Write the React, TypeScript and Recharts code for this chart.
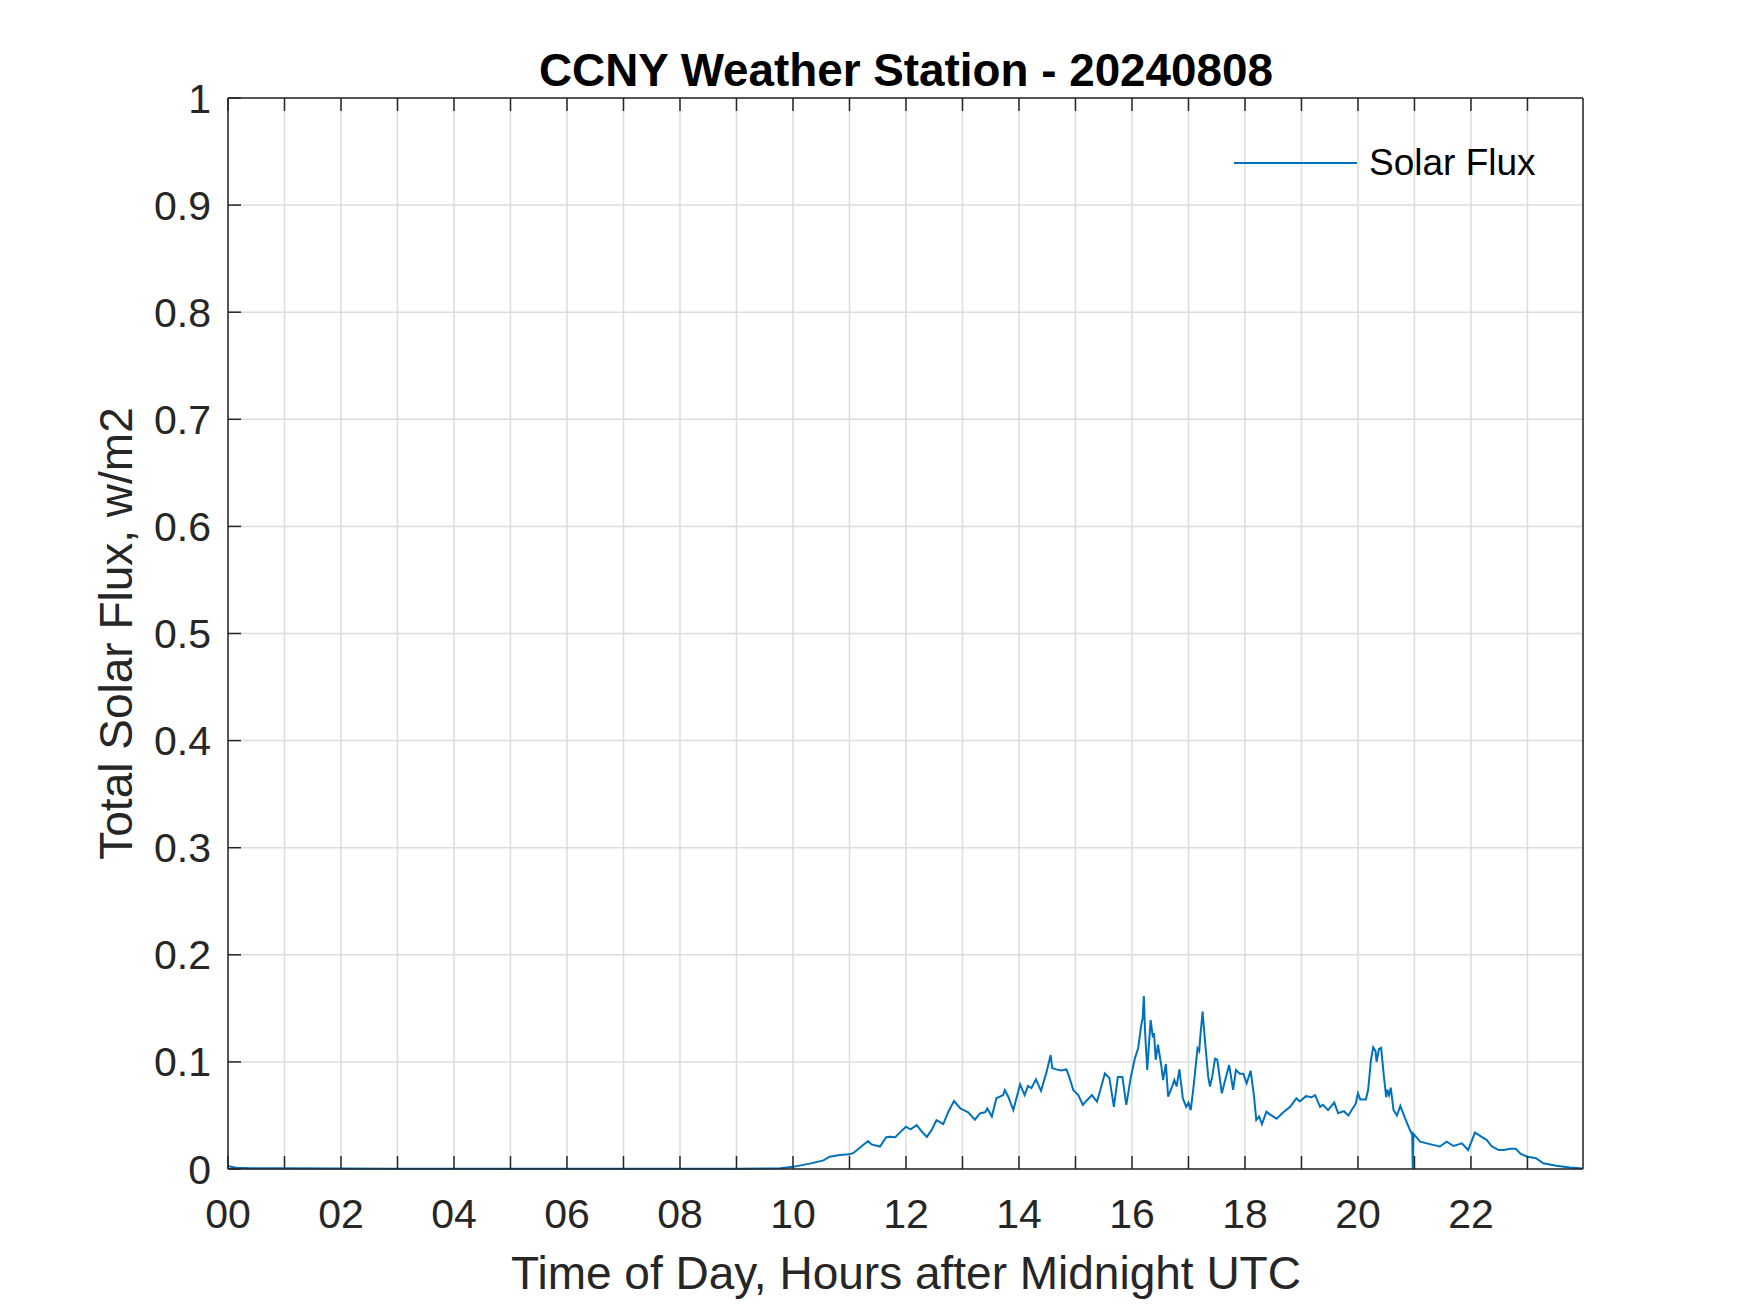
import { LineChart, Line, XAxis, YAxis, CartesianGrid, Legend } from 'recharts';

// hours after midnight UTC
const hours = [
  0, 0.05, 0.15, 0.4, 1, 2, 3, 4, 5, 6, 7, 8, 9, 9.5, 9.77,
  10, 10.3, 10.54, 10.65, 10.83, 11, 11.07, 11.22, 11.28, 11.33, 11.39, 11.54, 11.65, 11.72, 11.81, 11.89,
  12, 12.08, 12.19, 12.28, 12.37, 12.45, 12.54, 12.66, 12.75, 12.85, 12.96,
  13.1, 13.22, 13.31, 13.4, 13.44, 13.52, 13.6, 13.72, 13.75, 13.81, 13.9,
  14.02, 14.1, 14.16, 14.22, 14.3, 14.39, 14.49, 14.56, 14.59, 14.66, 14.75, 14.84, 14.89, 14.96,
  15.05, 15.13, 15.2, 15.29, 15.38, 15.44, 15.52, 15.6, 15.68, 15.75, 15.83, 15.9, 15.98,
  16.05, 16.11, 16.16, 16.19, 16.21, 16.23, 16.27, 16.33, 16.37, 16.39, 16.42, 16.46, 16.52, 16.55, 16.6,
  16.64, 16.71, 16.75, 16.79, 16.84, 16.9, 16.96,
  17, 17.04, 17.09, 17.16, 17.19, 17.21, 17.25, 17.29, 17.35, 17.38, 17.42, 17.47, 17.51, 17.59, 17.65,
  17.72, 17.79, 17.84, 17.91, 17.97,
  18.03, 18.1, 18.16, 18.2, 18.25, 18.3, 18.38, 18.44, 18.56, 18.68, 18.8, 18.91, 18.97,
  19.08, 19.18, 19.24, 19.33, 19.38, 19.47, 19.58, 19.65, 19.75, 19.83, 19.9, 19.96,
  20, 20.04, 20.14, 20.18, 20.23, 20.27, 20.31, 20.33, 20.37, 20.41, 20.46, 20.5, 20.52, 20.55, 20.58,
  20.63, 20.69, 20.75, 20.83, 20.92, 20.96, 20.97, 20.98,
  21.1, 21.29, 21.45, 21.57, 21.69, 21.84, 21.95,
  22.07, 22.19, 22.28, 22.37, 22.49, 22.58, 22.7, 22.79, 22.88,
  23, 23.15, 23.28, 23.51, 23.75, 23.98,
];

// total solar flux, w/m2
const flux = [
  0.003, 0.002, 0.0012, 0.0008, 0.0006, 0.0004, 0.0003, 0.0003, 0.0003, 0.0003, 0.0003, 0.0003, 0.0003, 0.0004, 0.0008,
  0.002, 0.005, 0.008, 0.0115, 0.013, 0.0137, 0.015, 0.0215, 0.024, 0.026, 0.023, 0.021, 0.0296, 0.03, 0.0296, 0.034,
  0.0395, 0.037, 0.041, 0.035, 0.03, 0.036, 0.0457, 0.042, 0.0535, 0.0635, 0.0567,
  0.053, 0.046, 0.052, 0.053, 0.0565, 0.049, 0.066, 0.069, 0.0737, 0.0675, 0.055,
  0.079, 0.069, 0.0775, 0.0755, 0.0837, 0.073, 0.0909, 0.1064, 0.094, 0.093, 0.092, 0.093, 0.086, 0.0737,
  0.069, 0.0598, 0.064, 0.069, 0.063, 0.0737, 0.0893, 0.085, 0.058, 0.086, 0.086, 0.0598, 0.086,
  0.103, 0.113, 0.133, 0.141, 0.1615, 0.13, 0.0924, 0.139, 0.123, 0.127, 0.102, 0.116, 0.096, 0.083, 0.098,
  0.0675, 0.077, 0.083, 0.077, 0.093, 0.066, 0.058,
  0.062, 0.055, 0.077, 0.1127, 0.11, 0.124, 0.147, 0.121, 0.086, 0.077, 0.086, 0.103, 0.102, 0.0707, 0.083,
  0.097, 0.074, 0.0924, 0.089, 0.089,
  0.08, 0.0918, 0.068, 0.0458, 0.049, 0.042, 0.0535, 0.051, 0.047, 0.053, 0.058, 0.066, 0.063,
  0.068, 0.067, 0.069, 0.058, 0.06, 0.055, 0.062, 0.052, 0.054, 0.05, 0.056, 0.061,
  0.0707, 0.065, 0.065, 0.074, 0.1018, 0.1136, 0.11, 0.1, 0.1118, 0.113, 0.086, 0.067, 0.074, 0.069, 0.076,
  0.055, 0.05, 0.059, 0.048, 0.0364, 0.032, 0, 0.033,
  0.0255, 0.023, 0.021, 0.0255, 0.0215, 0.024, 0.0177,
  0.034, 0.03, 0.027, 0.021, 0.0177, 0.0177, 0.019, 0.019, 0.014,
  0.0115, 0.01, 0.0053, 0.003, 0.0015, 0.0005,
];

const hourTicks = [0, 1, 2, 3, 4, 5, 6, 7, 8, 9, 10, 11, 12, 13, 14, 15, 16, 17, 18, 19, 20, 21, 22, 23];
const fluxTicks = [0, 0.1, 0.2, 0.3, 0.4, 0.5, 0.6, 0.7, 0.8, 0.9, 1];

const data = hours.map((h, i) => ({ h, flux: flux[i] }));

const FONT = '"Liberation Sans", Arial, Helvetica, sans-serif';
const INK = '#262626';
const BLUE = '#0072BD';

const hourLabel = (h: number) => (h % 2 === 0 ? String(h).padStart(2, '0') : '');
const blank = () => '';

export default function App() {
  return (
    <div style={{ position: 'relative', width: 1750, height: 1313, background: '#fff', fontFamily: FONT }}>
      <style>{'body{margin:0}'}</style>
      <LineChart width={1750} height={1313} data={data} margin={{ top: 78, right: 147, bottom: 84, left: 168 }}>
        <CartesianGrid stroke="#dcdcdc" strokeWidth={1.5} />
        <XAxis
          dataKey="h"
          type="number"
          domain={[0, 23.983]}
          ticks={hourTicks}
          interval={0}
          height={60}
          tickFormatter={hourLabel}
          tickSize={-13}
          tickMargin={43}
          stroke={INK}
          strokeWidth={1.5}
          tick={{ fill: INK, fontSize: 41, fontFamily: FONT }}
        />
        <XAxis
          xAxisId="top"
          orientation="top"
          dataKey="h"
          type="number"
          domain={[0, 23.983]}
          ticks={hourTicks}
          interval={0}
          height={20}
          tickFormatter={blank}
          tickSize={-13}
          stroke={INK}
          strokeWidth={1.5}
        />
        <YAxis
          type="number"
          domain={[0, 1]}
          ticks={fluxTicks}
          interval={0}
          width={60}
          tickSize={-13}
          tickMargin={30}
          stroke={INK}
          strokeWidth={1.5}
          tick={{ fill: INK, fontSize: 41, fontFamily: FONT }}
        />
        <YAxis
          yAxisId="right"
          orientation="right"
          type="number"
          domain={[0, 1]}
          ticks={fluxTicks}
          interval={0}
          width={20}
          tickFormatter={blank}
          tickSize={-13}
          stroke={INK}
          strokeWidth={1.5}
        />
        <Legend
          layout="horizontal"
          align="center"
          verticalAlign="middle"
          wrapperStyle={{ position: 'absolute', left: 1234, top: 140, width: 320 }}
          content={() => (
            <div style={{ display: 'flex', alignItems: 'center', height: 46 }}>
              <div style={{ width: 123, height: 0, borderTop: `2px solid ${BLUE}`, marginRight: 12 }} />
              <span style={{ fontSize: 37, color: '#000', fontFamily: FONT, lineHeight: '46px' }}>Solar Flux</span>
            </div>
          )}
        />
        <Line
          type="linear"
          dataKey="flux"
          name="Solar Flux"
          stroke={BLUE}
          strokeWidth={2}
          dot={false}
          activeDot={false}
          isAnimationActive={false}
        />
      </LineChart>
      <svg
        width={1750}
        height={1313}
        style={{ position: 'absolute', left: 0, top: 0, pointerEvents: 'none' }}
      >
        <text x={906} y={86} textAnchor="middle" fontSize={45.8} fontWeight="bold" fill="#000" fontFamily={FONT}>
          CCNY Weather Station - 20240808
        </text>
        <text x={906} y={1289} textAnchor="middle" fontSize={46} fill={INK} fontFamily={FONT}>
          Time of Day, Hours after Midnight UTC
        </text>
        <text
          x={0}
          y={0}
          transform="translate(132,633.5) rotate(-90)"
          textAnchor="middle"
          fontSize={46}
          fill={INK}
          fontFamily={FONT}
        >
          Total Solar Flux, w/m2
        </text>
      </svg>
    </div>
  );
}
